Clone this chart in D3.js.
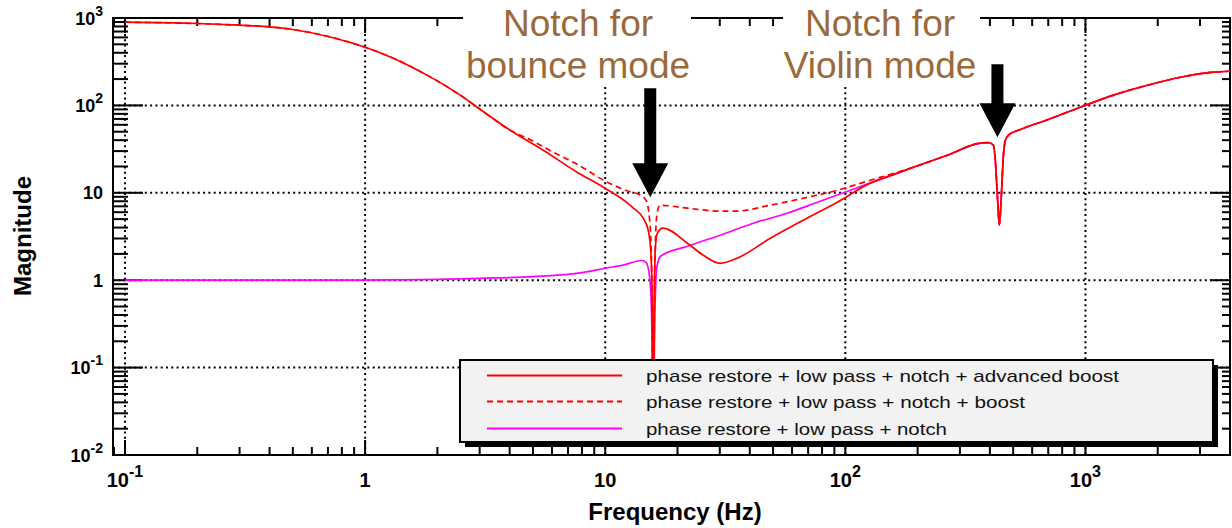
<!DOCTYPE html>
<html>
<head>
<meta charset="utf-8">
<script src="https://cdn.jsdelivr.net/npm/d3@7"></script>
<style>
  body { margin: 0; background: #fff; }
  svg { display: block; }
  text { font-family: "Liberation Sans", Arial, Helvetica, sans-serif; }
</style>
</head>
<body>
<svg id="chart" width="1232" height="528"></svg>
<script>
// ---- Data (frequency in Hz, magnitude) ----
// Low-frequency part shared by both boosted loops
const freqLowShared = [0.1, 0.2, 0.3, 0.402, 0.5, 0.736, 1.0, 1.31, 1.81, 2.49, 2.93, 4.02];
const magLowShared  = [895, 865, 827, 791, 739, 595, 463, 347, 222, 131, 95.3, 52];

// High-frequency part shared by all three loops (violin-mode notch near 440 Hz)
const freqHighShared = [192, 266, 365, 394, 414, 422, 430, 438, 447, 455, 464, 478, 536, 695, 953, 1308, 1812, 2489, 3415, 4000];
const magHighShared  = [19.6, 26.9, 37, 37.5, 35, 22, 9, 4.3, 10, 26, 40, 45.6, 53, 68.5, 95.3, 131, 170, 210, 240, 246];

// phase restore + low pass + notch + advanced boost
const freqAdvanced = [5.52, 7.64, 9.81, 12.4, 13.1, 14.4, 15.1, 15.5, 15.7, 15.85, 16.0, 16.2, 16.5, 17.4, 22, 25.6, 30.1, 35.5, 48.7, 66.8, 92.6, 127, 165];
const magAdvanced  = [30.7, 17.2, 11.6, 7.6, 6.67, 5.12, 3.73, 2.0, 0.5, 0.02, 0.6, 2.5, 3.45, 3.94, 2.65, 1.93, 1.56, 1.79, 3.02, 4.86, 7.8, 12.9, 16.8];

// phase restore + low pass + notch + boost
const freqBoost = [5.01, 6.07, 7.64, 10, 12.4, 14.0, 14.8, 15.3, 15.6, 15.85, 16.1, 16.4, 16.9, 22, 30.1, 34.7, 48.7, 66.8, 92.6, 127, 165];
const magBoost  = [38.9, 29.1, 21.2, 13.6, 10.5, 9.39, 8.2, 5, 1.5, 0.02, 1.5, 5.5, 7.21, 6.67, 6.16, 6.16, 7.21, 8.67, 10.7, 13.9, 17.2];

// phase restore + low pass + notch
const freqNotch = [0.1, 1, 2, 3, 5, 8, 10, 12, 14.2, 14.8, 15.3, 15.6, 15.85, 16.1, 16.4, 17, 22, 30.1, 41.4, 57.2, 78.6, 108, 165];
const magNotch  = [1.0, 1.0, 1.02, 1.05, 1.1, 1.22, 1.37, 1.5, 1.68, 1.6, 1.1, 0.4, 0.02, 0.4, 1.4, 1.88, 2.45, 3.27, 4.49, 5.84, 8.02, 11.0, 16.8];

const legendLabels = [
  "phase restore + low pass + notch + advanced boost",
  "phase restore + low pass + notch + boost",
  "phase restore + low pass + notch"
];

const xTickLabels = [
  { v: 0.1,  base: "10", exp: "-1" },
  { v: 1,    base: "1",  exp: "" },
  { v: 10,   base: "10", exp: "" },
  { v: 100,  base: "10", exp: "2" },
  { v: 1000, base: "10", exp: "3" }
];
const yTickLabels = [
  { v: 0.01, base: "10", exp: "-2" },
  { v: 0.1,  base: "10", exp: "-1" },
  { v: 1,    base: "1",  exp: "" },
  { v: 10,   base: "10", exp: "" },
  { v: 100,  base: "10", exp: "2" },
  { v: 1000, base: "10", exp: "3" }
];

// Notch annotations: arrow frequency, arrow tip / tail magnitude, caption
const notchArrowFreq = [15.4, 430];
const notchArrowTip  = [8.9, 43.3];
const notchArrowTail = [157, 296];
const notchCaptions  = [["Notch for", "bounce mode"], ["Notch for", "Violin mode"]];

// ---- Build series ----
function zipSeries(fs, ms) { return fs.map((f, i) => ({ f: f, m: ms[i] })); }
const series = [
  { name: legendLabels[0], color: "#ff0000", dash: null,
    data: zipSeries(freqLowShared.concat(freqAdvanced, freqHighShared), magLowShared.concat(magAdvanced, magHighShared)) },
  { name: legendLabels[1], color: "#ff0000", dash: "6 4",
    data: zipSeries(freqLowShared.concat(freqBoost, freqHighShared), magLowShared.concat(magBoost, magHighShared)) },
  { name: legendLabels[2], color: "#ff00ff", dash: null,
    data: zipSeries(freqNotch.concat(freqHighShared), magNotch.concat(magHighShared)) }
];

// ---- Layout ----
const plot = { left: 113, right: 1230, top: 18, bottom: 455 };
const x = d3.scaleLog().domain([Math.pow(10, -1.05), 4000]).range([plot.left, plot.right]);
const y = d3.scaleLog().domain([0.01, 1000]).range([plot.bottom, plot.top]);

const svg = d3.select("#chart");
svg.append("rect").attr("width", 1232).attr("height", 528).attr("fill", "#fff");

svg.append("defs").append("clipPath").attr("id", "plotClip")
  .append("rect").attr("x", plot.left).attr("y", plot.top)
  .attr("width", plot.right - plot.left).attr("height", plot.bottom - plot.top);

// Tick values: 1..9 x 10^k within each domain
function logTicks(dom) {
  const out = [];
  for (let k = -3; k <= 4; k++) {
    for (let n = 1; n <= 9; n++) {
      const v = n * Math.pow(10, k);
      if (v >= dom[0] * 0.9999 && v <= dom[1] * 1.0001) out.push({ v: v, major: n === 1 });
    }
  }
  return out;
}
const xTicks = logTicks(x.domain());
const yTicks = logTicks(y.domain());

// ---- Grid (dotted, decades only) ----
const grid = svg.append("g").attr("stroke", "#000").attr("stroke-width", 2).attr("stroke-dasharray", "2 3.3");
grid.selectAll("line.gx").data(xTicks.filter(t => t.major)).join("line")
  .attr("x1", d => x(d.v)).attr("x2", d => x(d.v))
  .attr("y1", plot.top).attr("y2", plot.bottom);
grid.selectAll("line.gy").data(yTicks.filter(t => t.major && t.v > 0.01 && t.v < 1000)).join("line")
  .attr("x1", plot.left).attr("x2", plot.right)
  .attr("y1", d => y(d.v)).attr("y2", d => y(d.v));

// ---- Frame and ticks ----
const axes = svg.append("g").attr("stroke", "#000").attr("stroke-width", 2).attr("fill", "none");
axes.append("rect").attr("x", plot.left).attr("y", plot.top)
  .attr("width", plot.right - plot.left).attr("height", plot.bottom - plot.top);
// bottom ticks (inward)
axes.selectAll("line.bt").data(xTicks).join("line")
  .attr("x1", d => x(d.v)).attr("x2", d => x(d.v))
  .attr("y1", plot.bottom).attr("y2", d => plot.bottom - (d.major ? 15 : 8));
// top ticks
axes.selectAll("line.tt").data(xTicks).join("line")
  .attr("x1", d => x(d.v)).attr("x2", d => x(d.v))
  .attr("y1", plot.top).attr("y2", d => plot.top + (d.major ? 15 : 8));
// left ticks
axes.selectAll("line.lt").data(yTicks).join("line")
  .attr("y1", d => y(d.v)).attr("y2", d => y(d.v))
  .attr("x1", plot.left).attr("x2", d => plot.left + (d.major ? 30 : 15));
// right ticks
axes.selectAll("line.rt").data(yTicks).join("line")
  .attr("y1", d => y(d.v)).attr("y2", d => y(d.v))
  .attr("x1", plot.right).attr("x2", d => plot.right - (d.major ? 20 : 8));

// ---- Curves (on top of the frame ticks) ----
const line = d3.line().x(d => x(d.f)).y(d => y(d.m)).curve(d3.curveMonotoneX);
const curves = svg.append("g").attr("clip-path", "url(#plotClip)");
// magenta first, then dashed, then solid red on top
[series[2], series[1], series[0]].forEach(s => {
  curves.append("path").datum(s.data)
    .attr("d", line)
    .attr("fill", "none")
    .attr("stroke", s.color)
    .attr("stroke-width", 1.7)
    .attr("stroke-dasharray", s.dash);
});

// ---- Tick labels ----
const xl = svg.append("g").attr("font-weight", "bold").attr("font-size", 20).attr("fill", "#000");
xTickLabels.forEach(t => {
  const tx = xl.append("text").attr("x", x(t.v)).attr("y", 487).attr("text-anchor", "middle");
  tx.append("tspan").text(t.base);
  if (t.exp) tx.append("tspan").attr("dy", -10).attr("font-size", 16).text(t.exp);
});
const yl = svg.append("g").attr("font-weight", "bold").attr("font-size", 18).attr("fill", "#000");
yTickLabels.forEach(t => {
  const ty = yl.append("text").attr("x", 103).attr("y", y(t.v) + 6.5).attr("text-anchor", "end");
  ty.append("tspan").text(t.base);
  if (t.exp) ty.append("tspan").attr("dy", -9).attr("font-size", 14).text(t.exp);
});

// ---- Axis titles ----
svg.append("text").attr("x", 675).attr("y", 520).attr("text-anchor", "middle")
  .attr("font-weight", "bold").attr("font-size", 24).text("Frequency (Hz)");
svg.append("text").attr("transform", "translate(31,236) rotate(-90)").attr("text-anchor", "middle")
  .attr("font-weight", "bold").attr("font-size", 24).text("Magnitude");

// ---- Legend ----
const lg = { x: 460, y: 360, w: 753, h: 82 };
svg.append("rect").attr("x", lg.x + 5).attr("y", lg.y + 5).attr("width", lg.w).attr("height", lg.h).attr("fill", "#000");
svg.append("rect").attr("x", lg.x).attr("y", lg.y).attr("width", lg.w).attr("height", lg.h)
  .attr("fill", "#f2f2f2").attr("stroke", "#000").attr("stroke-width", 2);
const rowY = [375.5, 401.5, 428.5];
const textLen = [473, 379, 301];
series.forEach((s, i) => {
  svg.append("line").attr("x1", 487).attr("x2", 622).attr("y1", rowY[i]).attr("y2", rowY[i])
    .attr("stroke", s.color).attr("stroke-width", 2).attr("stroke-dasharray", s.dash);
  svg.append("text").attr("x", 646).attr("y", rowY[i] + 6).attr("font-size", 17).attr("fill", "#111")
    .attr("textLength", textLen[i]).attr("lengthAdjust", "spacingAndGlyphs").text(s.name);
});

// ---- Notch annotations ----
const captionBoxes = [[463, 691], [783, 980]];
const captionCenters = [578, 880];
const ann = svg.append("g");
captionBoxes.forEach((b, i) => {
  ann.append("rect").attr("x", b[0]).attr("y", 0).attr("width", b[1] - b[0]).attr("height", 87).attr("fill", "#fff");
  notchCaptions[i].forEach((txt, j) => {
    ann.append("text").attr("x", captionCenters[i]).attr("y", 36 + j * 42)
      .attr("text-anchor", "middle").attr("font-size", 37).attr("fill", "#9b6a3b").text(txt);
  });
});
notchArrowFreq.forEach((f, i) => {
  const ax = x(f), tipY = y(notchArrowTip[i]), tailY = y(notchArrowTail[i]);
  const headH = 34, headHalf = 18, shaftHalf = 6;
  const p = d3.path();
  p.moveTo(ax - shaftHalf, tailY);
  p.lineTo(ax + shaftHalf, tailY);
  p.lineTo(ax + shaftHalf, tipY - headH);
  p.lineTo(ax + headHalf, tipY - headH);
  p.lineTo(ax, tipY);
  p.lineTo(ax - headHalf, tipY - headH);
  p.lineTo(ax - shaftHalf, tipY - headH);
  p.closePath();
  ann.append("path").attr("d", p.toString()).attr("fill", "#000");
});
</script>
</body>
</html>
